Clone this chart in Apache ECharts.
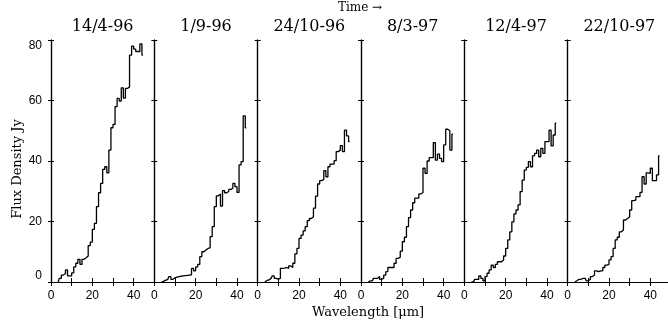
<!DOCTYPE html>
<html>
<head>
<meta charset="utf-8">
<script src="https://cdn.jsdelivr.net/npm/echarts@6/dist/echarts.min.js"></script>
<style>
  html, body { margin: 0; padding: 0; background: #fff; }
  #main { width: 668px; height: 328px; }
</style>
</head>
<body>
<div id="main"></div>
<script>
// observation dates, one panel each
var dates = ["14/4-96", "1/9-96", "24/10-96", "8/3-97", "12/4-97", "22/10-97"];

// bin centres in micron
var wavelength = [3.5, 4.5, 5.5, 6.5, 7.5, 8.5, 9.5, 10.5, 11.5, 12.5,
  13.5, 14.5, 15.5, 16.5, 17.5, 18.5, 19.5, 20.5, 21.5, 22.5,
  23.5, 24.5, 25.5, 26.5, 27.5, 28.5, 29.5, 30.5, 31.5, 32.5,
  33.5, 34.5, 35.5, 36.5, 37.5, 38.5, 39.5, 40.5, 41.5, 42.5,
  43.5, 44.5];

// flux density (Jy) per date
var flux_apr96 = [0, 1.2, 2.3, 2.8, 4, 2, 2, 3, 5, 6.2,
  7.5, 5.8, 7.5, 8, 8.6, 12, 13.2, 17.4, 19.4, 24.9,
  29.5, 32.6, 37.2, 38.1, 36.1, 43.6, 51, 52.1, 58, 60.7,
  59.8, 64.2, 60.8, 64, 64.5, 75, 78, 77, 76.2, 76.2,
  78.7, 75];
var flux_sep96 = [0, 0.2, 0.6, 0.8, 1.8, 0.9, 1.4, 1.6, 1.8, 1.9,
  2.0, 2.1, 2.2, 2.3, 2.4, 4.5, 3.7, 5, 5.8, 8.4,
  10, 10.6, 11.1, 11.3, 15, 18.3, 24.9, 28.5, 29.1, 25.1,
  30.2, 29.5, 29.9, 30.6, 31, 32.6, 31.5, 29.6, 38.7, 39.8,
  54.9, 51];
var flux_oct96 = [0, 0.5, 0.7, 1.2, 2.0, 1.2, 0.9, 1.2, 4.5, 4.6,
  4.8, 4.5, 5.3, 4.8, 6.2, 9.3, 11.1, 14.4, 15.5, 16.9,
  18.3, 20.3, 21, 21.6, 24.4, 28.4, 32.4, 33.5, 33.9, 36.8,
  34.8, 38.1, 39, 39, 40.1, 43.1, 43.6, 45.1, 43.1, 50.2,
  48.3, 46.4];
var flux_mar97 = [0, 0.4, 0.4, 1.2, 1.2, 1.8, 0.9, 1.2, 2.3, 3.4,
  4.8, 4.8, 4.8, 6.2, 7.8, 8.2, 10.2, 13.3, 14.8, 18.3,
  21.3, 23.8, 26.2, 27.7, 27.7, 29.1, 29.6, 37.6, 35.9, 40,
  41.1, 41.1, 46.1, 40.3, 42.3, 40.9, 39.8, 45.3, 50.5, 50,
  43.6, 48.9];
var flux_apr97 = [0, 0, 0.9, 0.9, 2, 1.2, 0.4, 1.8, 2.9, 4,
  5.6, 4.8, 5.8, 6.7, 6.7, 7.3, 8.6, 11.1, 13.9, 16.6,
  19.9, 22.5, 23.8, 25.5, 29.9, 33.7, 37, 37.9, 39.8, 38.1,
  41.7, 42.5, 43.6, 41.4, 44.2, 42.5, 46.4, 46.4, 50.2, 45,
  48.6, 52.5];
var flux_oct97 = [0, 0.4, 0.9, 0.9, 1.2, 1.2, 0.4, 0.9, 1.8, 2.3,
  3.7, 3.4, 3.7, 3.7, 4.8, 5.6, 5.8, 7.3, 8.4, 11.1,
  13.9, 14.8, 16.6, 17.2, 20.5, 21, 21.6, 23.8, 26.9, 27.1,
  28.2, 28.2, 29.6, 34.8, 32.4, 36.1, 35.9, 37.6, 33.5, 33.5,
  35.4, 41.7];

var fluxes = [flux_apr96, flux_sep96, flux_oct96, flux_mar97, flux_apr97, flux_oct97];

var serif = "DejaVu Serif";
var sans = "Liberation Sans";
var panelLeft = 51, panelW = 103.33, panelTop = 40, panelH = 242;

var grids = [], xAxes = [], yAxes = [], series = [];
var axisLine = { show: true, lineStyle: { color: "#000", width: 1.2 } };

dates.forEach(function (d, i) {
  grids.push({
    left: panelLeft + i * panelW, top: panelTop, width: panelW, height: panelH,
    outerBoundsMode: "none", containLabel: false
  });

  // bottom axis with labels
  xAxes.push({
    gridIndex: i, type: "value", min: 0, max: 50, interval: 10, position: "bottom",
    axisLine: axisLine,
    axisTick: { inside: true, length: 4, lineStyle: { color: "#000" } },
    axisLabel: {
      color: "#000", fontFamily: sans, fontSize: 12, margin: 8,
      formatter: function (v) { return (v % 20 === 0 && v < 50) ? String(v) : ""; }
    },
    splitLine: { show: false }
  });
  // top axis carries the date
  xAxes.push({
    gridIndex: i, type: "value", min: 0, max: 50, interval: 10, position: "top",
    axisLine: axisLine,
    axisTick: { inside: true, length: 4, lineStyle: { color: "#000" } },
    axisLabel: { show: false },
    splitLine: { show: false },
    name: d, nameLocation: "middle", nameGap: 13,
    nameTextStyle: { color: "#000", fontFamily: serif, fontSize: 16, verticalAlign: "middle" }
  });

  yAxes.push({
    gridIndex: i, type: "value", min: 0, max: 80, interval: 20, position: "left",
    axisLine: axisLine,
    axisTick: { inside: true, length: 3, lineStyle: { color: "#000" } },
    axisLabel: {
      show: i === 0, color: "#000", fontFamily: sans, fontSize: 12, margin: 9,
      verticalAlignMinLabel: "bottom", verticalAlignMaxLabel: "top"
    },
    splitLine: { show: false }
  });
  yAxes.push({
    gridIndex: i, type: "value", min: 0, max: 80, interval: 20, position: "right",
    axisLine: axisLine,
    axisTick: { inside: true, length: 3, lineStyle: { color: "#000" } },
    axisLabel: { show: false },
    splitLine: { show: false }
  });

  series.push({
    type: "line", step: "middle", xAxisIndex: 2 * i, yAxisIndex: 2 * i,
    showSymbol: false, animation: false, sampling: null,
    lineStyle: { color: "#000", width: 1.3 },
    data: wavelength.map(function (w, j) { return [w, fluxes[i][j]]; })
  });
});

var chart = echarts.init(document.getElementById("main"));
chart.setOption({
  animation: false,
  backgroundColor: "#fff",
  grid: grids,
  xAxis: xAxes,
  yAxis: yAxes,
  series: series,
  graphic: [
    { type: "text", x: 360, y: 8, style: { text: "Time \u2192", font: "12px " + serif, fill: "#000", textAlign: "center", textVerticalAlign: "middle" } },
    { type: "text", x: 368, y: 313, style: { text: "Wavelength [\u03bcm]", font: "13px " + serif, fill: "#000", textAlign: "center", textVerticalAlign: "middle" } },
    { type: "text", x: 18, y: 169, rotation: Math.PI / 2, style: { text: "Flux Density Jy", font: "13px " + serif, fill: "#000", textAlign: "center", textVerticalAlign: "middle" } }
  ]
});
</script>
</body>
</html>
